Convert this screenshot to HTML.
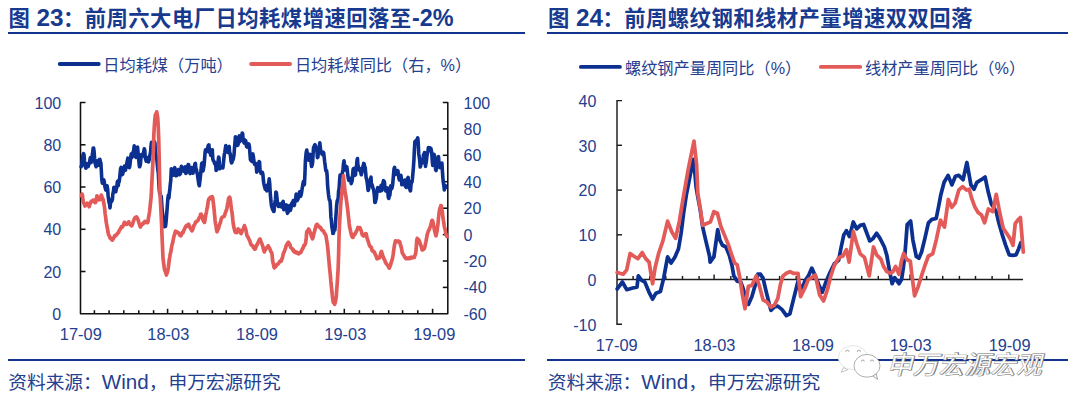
<!DOCTYPE html>
<html lang="zh"><head><meta charset="utf-8"><title>chart</title>
<style>
html,body{margin:0;padding:0;background:#fff;}
body{width:1080px;height:411px;position:relative;overflow:hidden;font-family:"Liberation Sans","Noto Sans CJK SC",sans-serif;color:#24408f;}
.rule{position:absolute;background:#12348f;}
svg{position:absolute;left:0;top:0;}
</style></head><body>
<div class="rule" style="left:8px;top:31.8px;width:516.8px;height:2px"></div>
<div class="rule" style="left:547px;top:31.8px;width:520.5px;height:2px"></div>
<div class="rule" style="left:8px;top:359px;width:516.8px;height:2px"></div>
<div class="rule" style="left:547px;top:359px;width:520.5px;height:2px"></div>
<svg width="1080" height="411" viewBox="0 0 1080 411">
<path d="M85.5,102.5 H80.5 V313.8 H447.8 V102.5 H442.8" stroke="#111" stroke-width="1.55" fill="none" stroke-linejoin="round"/>
<path d="M80.5,271.5 h5" stroke="#111" stroke-width="1.55" fill="none" stroke-linejoin="round"/>
<path d="M80.5,229.3 h5" stroke="#111" stroke-width="1.55" fill="none" stroke-linejoin="round"/>
<path d="M80.5,187.0 h5" stroke="#111" stroke-width="1.55" fill="none" stroke-linejoin="round"/>
<path d="M80.5,144.8 h5" stroke="#111" stroke-width="1.55" fill="none" stroke-linejoin="round"/>
<path d="M447.8,287.4 h-5" stroke="#111" stroke-width="1.55" fill="none" stroke-linejoin="round"/>
<path d="M447.8,261.0 h-5" stroke="#111" stroke-width="1.55" fill="none" stroke-linejoin="round"/>
<path d="M447.8,234.6 h-5" stroke="#111" stroke-width="1.55" fill="none" stroke-linejoin="round"/>
<path d="M447.8,208.2 h-5" stroke="#111" stroke-width="1.55" fill="none" stroke-linejoin="round"/>
<path d="M447.8,181.7 h-5" stroke="#111" stroke-width="1.55" fill="none" stroke-linejoin="round"/>
<path d="M447.8,155.3 h-5" stroke="#111" stroke-width="1.55" fill="none" stroke-linejoin="round"/>
<path d="M447.8,128.9 h-5" stroke="#111" stroke-width="1.55" fill="none" stroke-linejoin="round"/>
<path d="M94.4,313.8 v-3.6" stroke="#111" stroke-width="1.55" fill="none" stroke-linejoin="round"/>
<path d="M109.1,313.8 v-3.6" stroke="#111" stroke-width="1.55" fill="none" stroke-linejoin="round"/>
<path d="M123.8,313.8 v-3.6" stroke="#111" stroke-width="1.55" fill="none" stroke-linejoin="round"/>
<path d="M138.8,313.8 v-3.6" stroke="#111" stroke-width="1.55" fill="none" stroke-linejoin="round"/>
<path d="M153.6,313.8 v-3.6" stroke="#111" stroke-width="1.55" fill="none" stroke-linejoin="round"/>
<path d="M167.6,313.8 v-5" stroke="#111" stroke-width="1.55" fill="none" stroke-linejoin="round"/>
<path d="M182.5,313.8 v-3.6" stroke="#111" stroke-width="1.55" fill="none" stroke-linejoin="round"/>
<path d="M197.5,313.8 v-3.6" stroke="#111" stroke-width="1.55" fill="none" stroke-linejoin="round"/>
<path d="M212.4,313.8 v-3.6" stroke="#111" stroke-width="1.55" fill="none" stroke-linejoin="round"/>
<path d="M226.2,313.8 v-3.6" stroke="#111" stroke-width="1.55" fill="none" stroke-linejoin="round"/>
<path d="M240.7,313.8 v-3.6" stroke="#111" stroke-width="1.55" fill="none" stroke-linejoin="round"/>
<path d="M256.5,313.8 v-5" stroke="#111" stroke-width="1.55" fill="none" stroke-linejoin="round"/>
<path d="M270.6,313.8 v-3.6" stroke="#111" stroke-width="1.55" fill="none" stroke-linejoin="round"/>
<path d="M285.6,313.8 v-3.6" stroke="#111" stroke-width="1.55" fill="none" stroke-linejoin="round"/>
<path d="M300.7,313.8 v-3.6" stroke="#111" stroke-width="1.55" fill="none" stroke-linejoin="round"/>
<path d="M315.6,313.8 v-3.6" stroke="#111" stroke-width="1.55" fill="none" stroke-linejoin="round"/>
<path d="M330.4,313.8 v-3.6" stroke="#111" stroke-width="1.55" fill="none" stroke-linejoin="round"/>
<path d="M344.3,313.8 v-5" stroke="#111" stroke-width="1.55" fill="none" stroke-linejoin="round"/>
<path d="M359.4,313.8 v-3.6" stroke="#111" stroke-width="1.55" fill="none" stroke-linejoin="round"/>
<path d="M373,313.8 v-3.6" stroke="#111" stroke-width="1.55" fill="none" stroke-linejoin="round"/>
<path d="M388.7,313.8 v-3.6" stroke="#111" stroke-width="1.55" fill="none" stroke-linejoin="round"/>
<path d="M402.6,313.8 v-3.6" stroke="#111" stroke-width="1.55" fill="none" stroke-linejoin="round"/>
<path d="M417.8,313.8 v-3.6" stroke="#111" stroke-width="1.55" fill="none" stroke-linejoin="round"/>
<path d="M432.6,313.8 v-5" stroke="#111" stroke-width="1.55" fill="none" stroke-linejoin="round"/>
<text x="61.2" y="319.8" text-anchor="end" font-family="Liberation Sans, Arial, sans-serif" font-size="16" fill="#24408f">0</text>
<text x="61.2" y="277.5" text-anchor="end" font-family="Liberation Sans, Arial, sans-serif" font-size="16" fill="#24408f">20</text>
<text x="61.2" y="235.3" text-anchor="end" font-family="Liberation Sans, Arial, sans-serif" font-size="16" fill="#24408f">40</text>
<text x="61.2" y="193.0" text-anchor="end" font-family="Liberation Sans, Arial, sans-serif" font-size="16" fill="#24408f">60</text>
<text x="61.2" y="150.8" text-anchor="end" font-family="Liberation Sans, Arial, sans-serif" font-size="16" fill="#24408f">80</text>
<text x="61.2" y="108.5" text-anchor="end" font-family="Liberation Sans, Arial, sans-serif" font-size="16" fill="#24408f">100</text>
<text x="463.5" y="319.8" font-family="Liberation Sans, Arial, sans-serif" font-size="16" fill="#24408f">-60</text>
<text x="463.5" y="293.4" font-family="Liberation Sans, Arial, sans-serif" font-size="16" fill="#24408f">-40</text>
<text x="463.5" y="267.0" font-family="Liberation Sans, Arial, sans-serif" font-size="16" fill="#24408f">-20</text>
<text x="463.5" y="240.6" font-family="Liberation Sans, Arial, sans-serif" font-size="16" fill="#24408f">0</text>
<text x="463.5" y="214.2" font-family="Liberation Sans, Arial, sans-serif" font-size="16" fill="#24408f">20</text>
<text x="463.5" y="187.7" font-family="Liberation Sans, Arial, sans-serif" font-size="16" fill="#24408f">40</text>
<text x="463.5" y="161.3" font-family="Liberation Sans, Arial, sans-serif" font-size="16" fill="#24408f">60</text>
<text x="463.5" y="134.9" font-family="Liberation Sans, Arial, sans-serif" font-size="16" fill="#24408f">80</text>
<text x="463.5" y="108.5" font-family="Liberation Sans, Arial, sans-serif" font-size="16" fill="#24408f">100</text>
<text x="80.8" y="340.2" text-anchor="middle" font-family="Liberation Sans, Arial, sans-serif" font-size="16.4" fill="#24408f">17-09</text>
<text x="168.3" y="340.2" text-anchor="middle" font-family="Liberation Sans, Arial, sans-serif" font-size="16.4" fill="#24408f">18-03</text>
<text x="257" y="340.2" text-anchor="middle" font-family="Liberation Sans, Arial, sans-serif" font-size="16.4" fill="#24408f">18-09</text>
<text x="345.3" y="340.2" text-anchor="middle" font-family="Liberation Sans, Arial, sans-serif" font-size="16.4" fill="#24408f">19-03</text>
<text x="434.3" y="340.2" text-anchor="middle" font-family="Liberation Sans, Arial, sans-serif" font-size="16.4" fill="#24408f">19-09</text>
<polyline points="81.1,166.7 81.6,165.9 82.1,162.1 82.5,158.4 83.0,154.9 83.5,153.7 84.0,154.6 84.5,160.7 85.0,165.0 85.4,166.6 85.9,168.1 86.4,167.4 86.9,165.4 87.4,163.8 87.9,165.4 88.3,166.5 88.8,164.0 89.3,163.6 89.8,160.5 90.3,157.8 90.7,159.9 91.2,162.4 91.7,160.7 92.2,155.6 92.7,151.9 93.2,148.0 93.6,148.1 94.1,151.6 94.6,158.4 95.1,163.2 95.6,164.8 96.1,166.7 96.5,164.6 97.0,162.3 97.5,160.9 98.0,165.3 98.5,165.2 98.9,161.4 99.4,159.5 99.9,159.3 100.4,162.0 100.9,163.1 101.4,172.0 101.8,179.4 102.3,183.1 102.8,181.4 103.3,183.3 103.8,179.8 104.3,182.0 104.7,185.4 105.2,187.9 105.7,189.9 106.2,190.2 106.7,187.4 107.1,185.8 107.6,188.7 108.1,195.5 108.6,199.2 109.1,202.7 109.6,204.2 110.0,207.9 110.5,203.4 111.0,199.9 111.5,201.4 112.0,200.7 112.4,199.5 112.9,193.7 113.4,191.7 113.9,187.2 114.4,187.6 114.9,191.4 115.3,191.7 115.8,191.8 116.3,188.7 116.8,187.3 117.3,182.1 117.8,181.0 118.2,185.7 118.7,181.9 119.2,181.5 119.7,177.8 120.2,172.3 120.6,168.6 121.1,167.4 121.6,171.0 122.1,174.8 122.6,174.1 123.1,172.5 123.5,170.5 124.0,168.0 124.5,166.1 125.0,169.8 125.5,170.1 126.0,166.4 126.4,167.4 126.9,162.7 127.4,160.5 127.9,158.2 128.4,163.1 128.8,165.3 129.3,167.7 129.8,166.1 130.3,161.2 130.8,156.5 131.3,153.7 131.7,157.8 132.2,156.8 132.7,156.3 133.2,151.8 133.7,150.1 134.2,145.9 134.6,147.6 135.1,155.2 135.6,156.9 136.1,157.3 136.6,155.8 137.0,153.3 137.5,147.0 138.0,151.6 138.5,157.0 139.0,162.5 139.5,166.8 139.9,166.3 140.4,164.5 140.9,158.3 141.4,154.5 141.9,155.4 142.4,154.8 142.8,155.8 143.3,154.1 143.8,151.3 144.3,148.7 144.8,150.2 145.2,157.3 145.7,159.5 146.2,161.2 146.7,160.1 147.2,158.9 147.7,157.6 148.1,159.0 148.6,161.9 149.1,160.0 149.6,156.9 150.1,154.4 150.6,151.9 151.0,146.3 151.5,142.3 152.0,145.9 152.5,143.6 153.0,143.3 153.4,144.1 153.9,143.1 154.4,141.8 154.9,142.9 155.4,150.6 155.9,155.3 156.3,156.4 156.8,159.0 157.3,164.7 157.8,169.6 158.3,173.1 158.8,181.8 159.2,189.4 159.7,193.5 160.2,193.3 160.7,197.2 161.2,196.4 161.6,201.9 162.1,209.6 162.6,213.4 163.1,219.5 163.6,220.9 164.1,224.2 164.5,226.7 165.0,221.5 165.5,226.5 166.0,222.3 166.5,216.4 166.9,211.4 167.4,205.2 167.9,198.0 168.4,195.0 168.9,198.1 169.4,192.6 169.8,189.6 170.3,184.1 170.8,180.1 171.3,168.8 171.8,170.3 172.3,173.9 172.7,174.9 173.2,175.2 173.7,173.5 174.2,172.8 174.7,167.6 175.1,169.0 175.6,175.0 176.1,175.8 176.6,174.4 177.1,175.0 177.6,171.5 178.0,171.2 178.5,169.5 179.0,173.7 179.5,174.6 180.0,174.2 180.5,173.5 180.9,169.8 181.4,166.3 181.9,167.0 182.4,169.8 182.9,169.4 183.3,170.8 183.8,169.8 184.3,171.4 184.8,167.9 185.3,166.8 185.8,173.4 186.2,172.8 186.7,172.5 187.2,169.0 187.7,166.1 188.2,164.5 188.7,164.8 189.1,170.9 189.6,171.3 190.1,173.6 190.6,171.3 191.1,169.7 191.5,167.6 192.0,167.6 192.5,170.0 193.0,173.3 193.5,169.7 194.0,169.5 194.4,167.7 194.9,163.7 195.4,163.4 195.9,169.3 196.4,169.4 196.9,172.6 197.3,173.4 197.8,177.3 198.3,180.7 198.8,184.2 199.3,185.7 199.7,182.6 200.2,178.2 200.7,173.8 201.2,167.9 201.7,163.4 202.2,162.9 202.6,170.4 203.1,170.8 203.6,167.7 204.1,165.2 204.6,158.7 205.1,152.4 205.5,149.9 206.0,151.7 206.5,151.7 207.0,150.0 207.5,148.6 207.9,146.9 208.4,145.3 208.9,144.8 209.4,150.6 209.9,152.9 210.4,153.5 210.8,155.4 211.3,154.9 211.8,152.2 212.3,149.7 212.8,158.9 213.3,160.6 213.7,160.8 214.2,162.1 214.7,163.7 215.2,162.8 215.7,164.6 216.1,170.5 216.6,170.0 217.1,168.7 217.6,165.0 218.1,161.2 218.6,157.1 219.0,157.8 219.5,164.5 220.0,168.7 220.5,165.9 221.0,168.1 221.4,167.7 221.9,166.7 222.4,167.1 222.9,167.9 223.4,163.4 223.9,158.5 224.3,154.4 224.8,152.3 225.3,148.9 225.8,145.6 226.3,149.8 226.8,151.7 227.2,151.8 227.7,152.3 228.2,150.7 228.7,147.0 229.2,146.5 229.6,152.9 230.1,153.2 230.6,157.1 231.1,161.6 231.6,162.9 232.1,162.0 232.5,158.7 233.0,159.9 233.5,157.8 234.0,155.0 234.5,147.6 235.0,142.8 235.4,136.7 235.9,137.6 236.4,143.2 236.9,145.5 237.4,145.3 237.8,145.3 238.3,143.5 238.8,138.4 239.3,135.9 239.8,141.8 240.3,138.5 240.7,139.5 241.2,138.5 241.7,136.9 242.2,133.0 242.7,133.8 243.2,140.5 243.6,141.5 244.1,142.9 244.6,139.9 245.1,143.2 245.6,140.5 246.0,142.2 246.5,146.5 247.0,147.0 247.5,145.0 248.0,144.4 248.5,143.9 248.9,144.1 249.4,146.5 249.9,153.0 250.4,159.5 250.9,160.5 251.4,159.3 251.8,161.4 252.3,154.3 252.8,153.8 253.3,156.3 253.8,159.9 254.2,163.0 254.7,164.3 255.2,163.8 255.7,163.4 256.2,165.0 256.7,172.1 257.1,170.5 257.6,168.5 258.1,167.5 258.6,166.5 259.1,161.5 259.6,162.4 260.0,170.1 260.5,172.0 261.0,173.3 261.5,172.9 262.0,173.0 262.4,172.3 262.9,174.4 263.4,180.6 263.9,183.8 264.4,186.0 264.9,187.8 265.3,189.2 265.8,186.9 266.3,185.6 266.8,190.9 267.3,189.6 267.8,188.0 268.2,184.6 268.7,183.1 269.2,178.9 269.7,183.4 270.2,192.8 270.6,197.2 271.1,202.5 271.6,206.6 272.1,207.5 272.6,209.6 273.1,207.0 273.5,211.4 274.0,211.4 274.5,205.4 275.0,202.1 275.5,199.2 275.9,192.1 276.4,192.7 276.9,197.5 277.4,202.4 277.9,205.1 278.4,206.5 278.8,206.2 279.3,204.2 279.8,204.1 280.3,206.4 280.8,206.6 281.3,206.8 281.7,204.9 282.2,202.9 282.7,203.4 283.2,201.4 283.7,209.7 284.1,209.0 284.6,208.7 285.1,207.4 285.6,205.1 286.1,204.8 286.6,205.3 287.0,211.3 287.5,213.3 288.0,212.3 288.5,210.7 289.0,209.8 289.5,205.7 289.9,205.3 290.4,210.4 290.9,208.3 291.4,206.5 291.9,203.0 292.3,202.6 292.8,202.1 293.3,200.5 293.8,204.5 294.3,205.5 294.8,201.9 295.2,201.1 295.7,198.4 296.2,194.0 296.7,196.4 297.2,200.6 297.7,199.5 298.1,198.8 298.6,195.6 299.1,195.0 299.6,191.8 300.1,192.2 300.5,196.4 301.0,195.5 301.5,192.9 302.0,189.4 302.5,186.6 303.0,183.4 303.4,181.7 303.9,183.9 304.4,184.5 304.9,174.9 305.4,160.9 305.9,155.3 306.3,151.8 306.8,150.1 307.3,154.5 307.8,158.6 308.3,159.1 308.7,160.2 309.2,160.0 309.7,154.3 310.2,154.6 310.7,157.4 311.2,164.0 311.6,166.5 312.1,165.2 312.6,162.6 313.1,154.2 313.6,147.2 314.1,148.2 314.5,145.2 315.0,144.7 315.5,145.8 316.0,147.4 316.5,147.9 316.9,150.4 317.4,157.6 317.9,157.2 318.4,151.2 318.9,149.9 319.4,147.9 319.8,142.7 320.3,146.9 320.8,152.3 321.3,152.5 321.8,153.8 322.3,153.6 322.7,154.6 323.2,152.2 323.7,153.0 324.2,157.2 324.7,162.0 325.1,164.8 325.6,169.2 326.1,171.2 326.6,170.6 327.1,175.0 327.6,185.3 328.0,189.7 328.5,194.5 329.0,198.1 329.5,200.3 330.0,200.4 330.4,205.8 330.9,216.9 331.4,220.8 331.9,227.1 332.4,229.5 332.9,233.5 333.3,233.3 333.8,231.1 334.3,229.8 334.8,230.2 335.3,225.5 335.8,218.0 336.2,211.8 336.7,205.0 337.2,200.8 337.7,200.1 338.2,197.8 338.6,190.8 339.1,188.5 339.6,180.7 340.1,175.0 340.6,176.1 341.1,177.1 341.5,175.9 342.0,175.7 342.5,172.2 343.0,169.2 343.5,163.9 344.0,160.7 344.4,163.3 344.9,166.0 345.4,170.0 345.9,168.6 346.4,170.5 346.8,166.8 347.3,170.6 347.8,175.1 348.3,178.3 348.8,180.3 349.3,179.6 349.7,178.3 350.2,178.4 350.7,179.1 351.2,183.6 351.7,181.9 352.2,180.6 352.6,175.1 353.1,169.4 353.6,168.5 354.1,168.4 354.6,174.7 355.0,175.3 355.5,174.8 356.0,168.4 356.5,166.4 357.0,160.3 357.5,158.5 357.9,165.1 358.4,166.7 358.9,169.0 359.4,170.3 359.9,170.8 360.4,168.8 360.8,172.3 361.3,174.8 361.8,172.4 362.3,171.2 362.8,167.1 363.2,165.8 363.7,163.4 364.2,164.0 364.7,166.8 365.2,167.7 365.7,172.9 366.1,177.5 366.6,179.1 367.1,181.7 367.6,185.7 368.1,190.4 368.6,189.3 369.0,186.5 369.5,185.6 370.0,185.3 370.5,178.7 371.0,177.2 371.4,185.4 371.9,184.3 372.4,186.0 372.9,188.1 373.4,189.0 373.9,191.8 374.3,194.9 374.8,202.4 375.3,202.4 375.8,200.0 376.3,198.5 376.7,193.9 377.2,190.9 377.7,187.6 378.2,191.2 378.7,190.8 379.2,190.0 379.6,190.3 380.1,191.0 380.6,189.3 381.1,185.4 381.6,190.6 382.1,188.4 382.5,187.4 383.0,182.6 383.5,180.7 384.0,181.0 384.5,182.6 384.9,187.7 385.4,190.2 385.9,191.0 386.4,191.2 386.9,188.9 387.4,188.0 387.8,191.1 388.3,197.5 388.8,198.4 389.3,195.1 389.8,195.5 390.3,191.0 390.7,185.9 391.2,186.8 391.7,188.8 392.2,187.2 392.7,184.2 393.1,179.6 393.6,173.4 394.1,168.4 394.6,167.3 395.1,173.0 395.6,174.3 396.0,172.9 396.5,172.8 397.0,172.3 397.5,170.6 398.0,171.1 398.5,175.8 398.9,178.1 399.4,180.0 399.9,179.4 400.4,179.5 400.9,175.2 401.3,177.8 401.8,184.8 402.3,183.5 402.8,184.0 403.3,182.5 403.8,184.2 404.2,180.4 404.7,180.2 405.2,185.9 405.7,186.7 406.2,187.3 406.7,186.2 407.1,183.1 407.6,178.2 408.1,177.5 408.6,184.0 409.1,187.7 409.5,186.6 410.0,190.2 410.5,190.9 411.0,184.8 411.5,181.2 412.0,182.1 412.4,178.9 412.9,173.4 413.4,167.7 413.9,160.5 414.4,149.3 414.9,141.8 415.3,141.2 415.8,143.3 416.3,142.4 416.8,140.3 417.3,138.8 417.7,137.8 418.2,141.9 418.7,153.4 419.2,156.8 419.7,160.5 420.2,167.0 420.6,166.0 421.1,161.4 421.6,160.2 422.1,163.1 422.6,160.6 423.1,158.7 423.5,154.6 424.0,154.7 424.5,152.6 425.0,158.8 425.5,166.4 425.9,163.6 426.4,161.4 426.9,156.1 427.4,153.5 427.9,151.1 428.4,147.5 428.8,150.3 429.3,150.6 429.8,147.8 430.3,149.1 430.8,148.3 431.2,149.7 431.7,152.5 432.2,160.2 432.7,165.4 433.2,162.0 433.7,158.0 434.1,154.4 434.6,156.2 435.1,159.0 435.6,169.8 436.1,170.5 436.6,167.8 437.0,164.6 437.5,161.7 438.0,157.9 438.5,156.6 439.0,163.0 439.4,165.7 439.9,167.6 440.4,167.0 440.9,167.1 441.4,163.9 441.9,163.1 442.3,169.7 442.8,176.9 443.3,182.5 443.8,185.2 444.3,189.9 444.8,186.4 445.2,185.5 445.7,187.5" fill="none" stroke="#0c3090" stroke-width="3.6" stroke-linejoin="round" stroke-linecap="round"/>
<polyline points="81.5,195.9 82.0,194.1 82.5,195.2 82.9,199.6 83.4,202.7 83.9,202.9 84.4,204.4 84.9,206.1 85.4,205.7 85.8,205.3 86.3,204.7 86.8,204.1 87.3,203.1 87.8,203.8 88.3,204.8 88.7,204.8 89.2,206.8 89.7,205.0 90.2,203.6 90.7,202.4 91.1,201.5 91.6,201.7 92.1,201.2 92.6,201.1 93.1,200.1 93.6,200.6 94.0,200.2 94.5,201.2 95.0,202.6 95.5,202.5 96.0,200.6 96.5,198.9 96.9,195.8 97.4,196.8 97.9,197.4 98.4,198.6 98.9,199.9 99.3,199.8 99.8,199.7 100.3,197.7 100.8,196.8 101.3,195.1 101.8,196.3 102.2,198.3 102.7,198.5 103.2,199.9 103.7,203.0 104.2,205.4 104.7,208.8 105.1,213.5 105.6,216.8 106.1,221.4 106.6,224.3 107.1,227.2 107.5,228.9 108.0,232.2 108.5,234.4 109.0,235.4 109.5,236.3 110.0,237.9 110.4,238.4 110.9,238.1 111.4,238.8 111.9,240.0 112.4,240.1 112.8,239.4 113.3,238.8 113.8,237.5 114.3,236.7 114.8,235.6 115.3,236.2 115.7,235.4 116.2,234.7 116.7,234.6 117.2,233.9 117.7,233.2 118.2,232.5 118.6,232.4 119.1,230.7 119.6,230.3 120.1,229.2 120.6,228.3 121.0,227.7 121.5,226.6 122.0,227.4 122.5,226.7 123.0,226.2 123.5,224.9 123.9,223.7 124.4,222.3 124.9,222.5 125.4,224.0 125.9,224.1 126.4,224.3 126.8,224.4 127.3,224.0 127.8,223.2 128.3,223.0 128.8,221.8 129.2,222.9 129.7,223.7 130.2,224.1 130.7,224.9 131.2,225.5 131.7,225.9 132.1,225.0 132.6,223.9 133.1,222.2 133.6,220.9 134.1,219.2 134.6,218.4 135.0,217.7 135.5,218.2 136.0,218.0 136.5,217.0 137.0,217.4 137.4,218.6 137.9,219.3 138.4,220.8 138.9,222.8 139.4,224.1 139.9,225.7 140.3,227.0 140.8,226.2 141.3,225.4 141.8,224.5 142.3,224.5 142.8,223.4 143.2,223.9 143.7,222.7 144.2,222.8 144.7,221.5 145.2,221.4 145.6,222.1 146.1,222.2 146.6,222.2 147.1,222.7 147.6,222.6 148.1,221.2 148.5,217.8 149.0,215.0 149.5,212.0 150.0,207.7 150.5,202.8 151.0,198.0 151.4,192.1 151.9,181.6 152.4,171.9 152.9,162.2 153.4,149.5 153.8,135.5 154.3,126.7 154.8,120.2 155.3,114.8 155.8,114.5 156.3,113.3 156.7,111.9 157.2,114.7 157.7,117.5 158.2,125.9 158.7,138.4 159.2,158.7 159.6,178.4 160.1,196.1 160.6,204.4 161.1,214.1 161.6,224.8 162.0,235.4 162.5,246.7 163.0,258.0 163.5,262.0 164.0,265.9 164.5,269.4 164.9,270.5 165.4,271.7 165.9,273.3 166.4,275.0 166.9,273.6 167.3,272.0 167.8,270.7 168.3,267.7 168.8,263.5 169.3,259.5 169.8,256.9 170.2,254.3 170.7,252.3 171.2,249.7 171.7,246.5 172.2,244.0 172.7,242.8 173.1,240.3 173.6,238.0 174.1,235.6 174.6,234.5 175.1,232.5 175.5,231.2 176.0,231.9 176.5,231.9 177.0,231.8 177.5,232.6 178.0,232.6 178.4,232.7 178.9,233.6 179.4,234.4 179.9,235.5 180.4,235.5 180.9,235.8 181.3,234.8 181.8,233.7 182.3,232.4 182.8,232.9 183.3,231.9 183.7,230.5 184.2,229.9 184.7,228.6 185.2,227.5 185.7,226.4 186.2,226.3 186.6,225.4 187.1,226.0 187.6,225.5 188.1,224.8 188.6,224.3 189.1,225.4 189.5,226.3 190.0,227.8 190.5,228.5 191.0,229.0 191.5,230.2 191.9,230.9 192.4,230.1 192.9,229.0 193.4,226.9 193.9,225.5 194.4,225.1 194.8,224.1 195.3,222.7 195.8,221.8 196.3,222.0 196.8,221.3 197.3,220.9 197.7,220.7 198.2,219.9 198.7,218.8 199.2,217.7 199.7,217.1 200.1,216.4 200.6,214.3 201.1,214.1 201.6,214.9 202.1,216.5 202.6,218.5 203.0,219.9 203.5,221.2 204.0,221.6 204.5,222.4 205.0,219.9 205.5,216.5 205.9,214.2 206.4,212.1 206.9,209.0 207.4,207.4 207.9,203.7 208.3,200.7 208.8,199.2 209.3,198.5 209.8,199.0 210.3,197.3 210.8,197.5 211.2,197.1 211.7,196.8 212.2,196.6 212.7,198.1 213.2,202.0 213.7,205.6 214.1,209.6 214.6,215.1 215.1,220.4 215.6,224.1 216.1,226.0 216.5,229.5 217.0,231.8 217.5,230.5 218.0,229.3 218.5,228.6 219.0,226.6 219.4,225.0 219.9,223.6 220.4,222.8 220.9,220.4 221.4,218.4 221.8,217.8 222.3,217.2 222.8,217.0 223.3,216.7 223.8,216.6 224.3,216.2 224.7,215.1 225.2,213.1 225.7,212.0 226.2,210.7 226.7,209.0 227.2,207.0 227.6,203.9 228.1,201.6 228.6,198.4 229.1,197.8 229.6,197.1 230.0,198.2 230.5,201.4 231.0,205.6 231.5,209.5 232.0,212.3 232.5,216.5 232.9,220.7 233.4,224.7 233.9,227.5 234.4,229.4 234.9,231.4 235.4,232.3 235.8,232.2 236.3,231.5 236.8,232.5 237.3,231.1 237.8,230.1 238.2,229.0 238.7,230.4 239.2,229.9 239.7,231.5 240.2,232.6 240.7,233.1 241.1,233.6 241.6,232.7 242.1,230.9 242.6,230.0 243.1,229.1 243.6,228.3 244.0,227.3 244.5,225.6 245.0,227.5 245.5,228.7 246.0,230.4 246.4,232.5 246.9,235.4 247.4,236.2 247.9,237.3 248.4,237.7 248.9,239.3 249.3,239.8 249.8,240.8 250.3,242.6 250.8,244.3 251.3,244.7 251.8,245.4 252.2,245.5 252.7,245.8 253.2,246.8 253.7,247.8 254.2,248.4 254.6,249.1 255.1,249.2 255.6,248.0 256.1,246.5 256.6,245.1 257.1,245.0 257.5,243.6 258.0,242.7 258.5,241.8 259.0,240.4 259.5,239.5 260.0,239.0 260.4,240.0 260.9,241.8 261.4,242.7 261.9,243.8 262.4,245.4 262.8,246.2 263.3,248.6 263.8,250.5 264.3,251.9 264.8,250.4 265.3,250.0 265.7,249.3 266.2,248.2 266.7,247.7 267.2,247.3 267.7,246.6 268.2,245.8 268.6,246.7 269.1,247.5 269.6,248.5 270.1,249.4 270.6,250.9 271.0,251.9 271.5,252.5 272.0,253.8 272.5,259.6 273.0,262.8 273.5,264.5 273.9,266.8 274.4,267.8 274.9,267.3 275.4,266.4 275.9,266.5 276.3,265.2 276.8,264.5 277.3,264.1 277.8,264.2 278.3,263.6 278.8,263.2 279.2,262.4 279.7,261.8 280.2,261.0 280.7,261.2 281.2,261.2 281.7,259.5 282.1,258.6 282.6,257.0 283.1,254.7 283.6,252.6 284.1,252.2 284.5,250.9 285.0,249.6 285.5,248.4 286.0,246.3 286.5,245.1 287.0,244.1 287.4,243.5 287.9,243.1 288.4,242.3 288.9,243.1 289.4,244.6 289.9,244.5 290.3,246.3 290.8,247.6 291.3,247.9 291.8,248.4 292.3,248.6 292.7,249.8 293.2,249.6 293.7,251.4 294.2,251.3 294.7,252.2 295.2,251.5 295.6,252.3 296.1,252.9 296.6,252.3 297.1,252.4 297.6,253.2 298.1,253.6 298.5,253.8 299.0,253.5 299.5,252.9 300.0,252.8 300.5,252.2 300.9,252.4 301.4,251.0 301.9,250.1 302.4,248.9 302.9,248.2 303.4,247.4 303.8,245.7 304.3,245.8 304.8,244.7 305.3,243.9 305.8,241.7 306.3,237.2 306.7,232.1 307.2,231.2 307.7,231.2 308.2,229.9 308.7,229.0 309.1,230.1 309.6,231.1 310.1,232.2 310.6,233.6 311.1,235.2 311.6,236.8 312.0,237.5 312.5,238.8 313.0,237.5 313.5,235.4 314.0,233.0 314.5,231.6 314.9,229.7 315.4,228.4 315.9,226.2 316.4,224.9 316.9,224.3 317.3,224.4 317.8,225.7 318.3,226.1 318.8,226.1 319.3,226.9 319.8,227.0 320.2,227.9 320.7,227.7 321.2,228.8 321.7,229.9 322.2,230.1 322.7,230.2 323.1,231.2 323.6,231.2 324.1,232.7 324.6,233.2 325.1,234.3 325.5,234.6 326.0,236.0 326.5,239.3 327.0,242.2 327.5,245.8 328.0,250.6 328.4,255.0 328.9,260.3 329.4,266.3 329.9,271.1 330.4,275.7 330.8,280.9 331.3,285.9 331.8,290.2 332.3,295.4 332.8,299.6 333.3,302.4 333.7,302.5 334.2,303.3 334.7,304.3 335.2,302.5 335.7,300.1 336.2,297.4 336.6,291.2 337.1,285.2 337.6,277.2 338.1,269.3 338.6,255.1 339.0,237.3 339.5,224.5 340.0,216.0 340.5,208.0 341.0,200.6 341.5,196.4 341.9,191.8 342.4,187.3 342.9,181.6 343.4,175.7 343.9,180.8 344.4,185.8 344.8,190.1 345.3,193.2 345.8,195.8 346.3,199.1 346.8,202.7 347.2,206.0 347.7,209.8 348.2,214.6 348.7,218.7 349.2,223.7 349.7,227.4 350.1,228.8 350.6,231.3 351.1,233.5 351.6,235.7 352.1,236.3 352.6,237.5 353.0,237.5 353.5,236.1 354.0,234.9 354.5,234.1 355.0,234.3 355.4,233.1 355.9,232.5 356.4,230.9 356.9,230.5 357.4,229.0 357.9,227.5 358.3,227.9 358.8,228.4 359.3,228.6 359.8,227.7 360.3,228.6 360.8,229.8 361.2,230.7 361.7,232.4 362.2,234.8 362.7,235.3 363.2,235.6 363.6,236.0 364.1,235.5 364.6,235.0 365.1,234.5 365.6,233.6 366.1,233.8 366.5,235.4 367.0,238.0 367.5,239.2 368.0,240.9 368.5,242.1 369.0,244.0 369.4,245.3 369.9,246.1 370.4,246.8 370.9,246.8 371.4,247.5 371.8,249.5 372.3,250.8 372.8,251.4 373.3,251.2 373.8,251.5 374.3,252.0 374.7,252.8 375.2,254.4 375.7,255.1 376.2,256.3 376.7,258.2 377.1,258.8 377.6,258.1 378.1,258.2 378.6,258.3 379.1,257.8 379.6,257.7 380.0,256.1 380.5,254.3 381.0,252.1 381.5,251.4 382.0,253.1 382.5,254.6 382.9,256.5 383.4,257.2 383.9,259.0 384.4,259.6 384.9,260.4 385.3,262.1 385.8,262.6 386.3,264.0 386.8,264.3 387.3,264.9 387.8,265.5 388.2,265.8 388.7,267.3 389.2,268.1 389.7,267.2 390.2,265.7 390.7,264.7 391.1,262.7 391.6,261.4 392.1,259.9 392.6,257.7 393.1,255.0 393.5,251.7 394.0,248.3 394.5,245.0 395.0,242.7 395.5,240.8 396.0,241.2 396.4,241.6 396.9,241.5 397.4,241.2 397.9,241.8 398.4,241.0 398.9,241.4 399.3,241.5 399.8,241.9 400.3,244.2 400.8,245.9 401.3,247.4 401.7,249.5 402.2,252.6 402.7,253.6 403.2,254.4 403.7,255.1 404.2,256.0 404.6,256.9 405.1,257.6 405.6,258.1 406.1,258.6 406.6,258.2 407.1,258.6 407.5,258.7 408.0,258.1 408.5,258.4 409.0,257.9 409.5,258.5 409.9,258.3 410.4,258.4 410.9,257.2 411.4,257.1 411.9,257.5 412.4,257.9 412.8,257.4 413.3,257.5 413.8,257.2 414.3,257.3 414.8,255.8 415.3,254.5 415.7,253.4 416.2,249.0 416.7,240.5 417.2,238.4 417.7,239.2 418.1,239.4 418.6,239.6 419.1,240.4 419.6,241.8 420.1,243.4 420.6,245.0 421.0,245.7 421.5,247.4 422.0,249.8 422.5,250.0 423.0,249.5 423.5,249.3 423.9,249.0 424.4,248.4 424.9,246.5 425.4,244.1 425.9,241.8 426.3,239.6 426.8,237.0 427.3,234.1 427.8,232.9 428.3,231.0 428.8,230.2 429.2,229.6 429.7,228.2 430.2,226.9 430.7,225.4 431.2,223.8 431.6,221.4 432.1,220.3 432.6,220.8 433.1,222.9 433.6,226.0 434.1,228.0 434.5,230.4 435.0,232.3 435.5,234.4 436.0,235.8 436.5,233.3 437.0,231.5 437.4,228.0 437.9,224.6 438.4,219.1 438.9,214.6 439.4,210.8 439.8,208.7 440.3,207.5 440.8,205.6 441.3,205.8 441.8,209.5 442.3,211.6 442.7,215.1 443.2,219.3 443.7,222.2 444.2,225.8 444.7,228.4 445.2,229.7 445.6,232.5 446.1,235.0 446.6,235.6 447.1,236.7" fill="none" stroke="#e35b58" stroke-width="3.7" stroke-linejoin="round" stroke-linecap="round"/>
<path d="M622,100.6 H617 V324.3 h5" stroke="#1c1c1c" stroke-width="1.45" fill="none"/>
<path d="M617,279.5 H1023" stroke="#1c1c1c" stroke-width="1.45" fill="none"/>
<path d="M617,234.8 h5" stroke="#1c1c1c" stroke-width="1.45" fill="none"/>
<path d="M617,190.1 h5" stroke="#1c1c1c" stroke-width="1.45" fill="none"/>
<path d="M617,145.3 h5" stroke="#1c1c1c" stroke-width="1.45" fill="none"/>
<path d="M633.1,279.5 v-3.6" stroke="#1c1c1c" stroke-width="1.45" fill="none"/>
<path d="M649.7,279.5 v-3.6" stroke="#1c1c1c" stroke-width="1.45" fill="none"/>
<path d="M665.8,279.5 v-3.6" stroke="#1c1c1c" stroke-width="1.45" fill="none"/>
<path d="M682.5,279.5 v-3.6" stroke="#1c1c1c" stroke-width="1.45" fill="none"/>
<path d="M699.1,279.5 v-3.6" stroke="#1c1c1c" stroke-width="1.45" fill="none"/>
<path d="M714.1,279.5 v-5" stroke="#1c1c1c" stroke-width="1.45" fill="none"/>
<path d="M730.8,279.5 v-3.6" stroke="#1c1c1c" stroke-width="1.45" fill="none"/>
<path d="M746.9,279.5 v-3.6" stroke="#1c1c1c" stroke-width="1.45" fill="none"/>
<path d="M763.5,279.5 v-3.6" stroke="#1c1c1c" stroke-width="1.45" fill="none"/>
<path d="M779.6,279.5 v-3.6" stroke="#1c1c1c" stroke-width="1.45" fill="none"/>
<path d="M796.2,279.5 v-3.6" stroke="#1c1c1c" stroke-width="1.45" fill="none"/>
<path d="M812.9,279.5 v-5" stroke="#1c1c1c" stroke-width="1.45" fill="none"/>
<path d="M829.0,279.5 v-3.6" stroke="#1c1c1c" stroke-width="1.45" fill="none"/>
<path d="M845.6,279.5 v-3.6" stroke="#1c1c1c" stroke-width="1.45" fill="none"/>
<path d="M861.7,279.5 v-3.6" stroke="#1c1c1c" stroke-width="1.45" fill="none"/>
<path d="M878.3,279.5 v-3.6" stroke="#1c1c1c" stroke-width="1.45" fill="none"/>
<path d="M895.0,279.5 v-3.6" stroke="#1c1c1c" stroke-width="1.45" fill="none"/>
<path d="M910.0,279.5 v-5" stroke="#1c1c1c" stroke-width="1.45" fill="none"/>
<path d="M926.6,279.5 v-3.6" stroke="#1c1c1c" stroke-width="1.45" fill="none"/>
<path d="M942.7,279.5 v-3.6" stroke="#1c1c1c" stroke-width="1.45" fill="none"/>
<path d="M959.4,279.5 v-3.6" stroke="#1c1c1c" stroke-width="1.45" fill="none"/>
<path d="M975.5,279.5 v-3.6" stroke="#1c1c1c" stroke-width="1.45" fill="none"/>
<path d="M992.1,279.5 v-3.6" stroke="#1c1c1c" stroke-width="1.45" fill="none"/>
<path d="M1008.8,279.5 v-5" stroke="#1c1c1c" stroke-width="1.45" fill="none"/>
<text x="596.4" y="330.6" text-anchor="end" font-family="Liberation Sans, Arial, sans-serif" font-size="16" fill="#24408f">-10</text>
<text x="596.4" y="285.9" text-anchor="end" font-family="Liberation Sans, Arial, sans-serif" font-size="16" fill="#24408f">0</text>
<text x="596.4" y="241.1" text-anchor="end" font-family="Liberation Sans, Arial, sans-serif" font-size="16" fill="#24408f">10</text>
<text x="596.4" y="196.4" text-anchor="end" font-family="Liberation Sans, Arial, sans-serif" font-size="16" fill="#24408f">20</text>
<text x="596.4" y="151.6" text-anchor="end" font-family="Liberation Sans, Arial, sans-serif" font-size="16" fill="#24408f">30</text>
<text x="596.4" y="106.9" text-anchor="end" font-family="Liberation Sans, Arial, sans-serif" font-size="16" fill="#24408f">40</text>
<text x="616.7" y="350.8" text-anchor="middle" font-family="Liberation Sans, Arial, sans-serif" font-size="16.4" fill="#24408f">17-09</text>
<text x="714.4" y="350.8" text-anchor="middle" font-family="Liberation Sans, Arial, sans-serif" font-size="16.4" fill="#24408f">18-03</text>
<text x="813" y="350.8" text-anchor="middle" font-family="Liberation Sans, Arial, sans-serif" font-size="16.4" fill="#24408f">18-09</text>
<text x="910.6" y="350.8" text-anchor="middle" font-family="Liberation Sans, Arial, sans-serif" font-size="16.4" fill="#24408f">19-03</text>
<text x="1009.6" y="350.8" text-anchor="middle" font-family="Liberation Sans, Arial, sans-serif" font-size="16.4" fill="#24408f">19-09</text>
<polyline points="617.2,288.9 622.4,282.0 626.7,289.7 632.7,288.0 637.0,287.1 638.3,275.9 641.4,280.2 644.8,282.0 649.1,292.3 652.6,299.2 656.0,293.2 660.4,291.5 663.8,277.6 667.6,256.9 671.1,263.0 675.0,256.9 678.5,248.7 681.1,233.2 683.7,212.5 686.3,195.2 688.9,181.8 693.2,159.4 694.9,173.2 696.1,187.0 697.5,195.2 700.1,209.0 702.7,227.1 706.1,241.8 709.6,256.5 710.1,262.1 713.9,256.9 717.7,229.7 719.9,240.1 722.5,245.3 726.0,247.0 729.4,255.6 732.0,265.5 733.8,275.9 737.2,281.1 740.7,282.0 743.3,288.9 745.9,300.1 748.4,304.4 751.9,296.6 755.4,284.5 757.9,274.2 760.5,274.2 763.1,278.5 765.7,289.7 768.3,300.1 770.9,310.4 774.3,307.0 777.8,306.1 782.1,309.6 786.4,315.6 789.9,313.9 793.3,300.1 795.9,289.7 798.0,281.1 801.5,289.7 804.9,281.1 808.4,275.9 811.8,268.1 815.3,275.9 818.7,284.5 822.2,292.3 825.6,282.8 830.0,272.5 834.3,263.8 838.6,260.4 841.2,247.0 843.8,234.9 846.4,230.6 849.5,236.6 853.3,222.0 856.7,228.9 860.2,225.4 863.6,224.5 866.2,231.5 869.7,240.9 873.1,238.4 876.6,233.2 880.0,238.4 884.4,247.0 886.9,255.6 889.5,270.7 892.1,283.7 894.7,277.6 899.0,283.7 901.6,279.4 903.4,267.3 905.1,252.2 907.2,224.5 910.6,221.1 912.9,240.1 916.3,256.5 918.9,258.2 921.5,252.2 924.9,238.4 928.4,222.8 931.9,219.4 936.2,218.5 938.8,205.5 940.7,195.3 944.1,182.3 948.1,175.4 951.9,184.9 955.4,176.3 958.8,175.4 963.1,179.7 966.9,162.5 970.9,184.9 974.0,189.2 976.9,182.3 981.3,179.7 985.1,177.1 988.2,191.8 991.3,203.9 993.6,207.3 996.2,211.6 998.8,222.8 1002.3,234.9 1005.7,245.3 1009.2,254.8 1012.6,255.3 1016.1,254.8 1018.7,248.7 1020.9,242.7" fill="none" stroke="#0c3090" stroke-width="3.75" stroke-linejoin="round" stroke-linecap="round"/>
<polyline points="617.2,272.5 619.8,273.3 623.2,274.2 626.7,269.9 630.1,253.5 633.6,256.0 637.9,258.6 642.2,252.6 645.7,258.6 649.1,262.1 652.6,283.7 655.2,267.3 658.6,253.5 662.9,240.9 667.6,221.1 671.6,231.5 675.6,238.4 679.4,221.1 682.8,200.4 688.0,170.6 690.6,157.6 694.0,141.2 696.6,164.5 697.8,193.5 700.1,207.3 702.7,225.4 706.1,223.7 710.4,222.0 713.9,211.6 717.4,213.3 720.8,226.3 725.1,236.6 728.6,245.3 731.2,253.5 734.6,263.0 737.2,264.7 739.8,277.6 742.4,294.9 745.0,308.7 748.4,286.3 751.9,285.4 756.2,275.9 759.7,287.1 763.1,300.1 766.6,301.8 770.9,307.0 774.3,305.3 777.8,298.4 780.4,284.5 783.0,275.9 786.4,273.3 789.9,271.6 793.3,273.3 798.0,273.3 800.6,296.6 804.9,288.0 808.4,279.4 811.8,277.6 815.3,275.0 819.6,294.9 823.6,300.9 827.4,289.7 830.8,275.9 834.3,265.5 838.6,257.8 842.9,256.0 846.4,249.6 849.1,262.1 853.3,231.5 856.7,243.5 860.2,253.9 864.5,257.4 869.2,275.9 873.5,247.0 876.6,254.8 880.9,259.1 883.5,266.4 886.9,271.6 890.4,273.3 893.0,271.6 895.6,266.4 899.0,274.2 901.6,260.4 903.7,253.5 906.8,259.5 910.3,261.2 912.0,275.9 914.6,295.8 918.0,287.1 921.5,275.9 924.9,265.5 928.4,256.0 932.7,253.9 936.2,240.1 940.5,220.2 944.5,227.1 948.3,199.5 951.7,207.3 955.2,203.0 958.8,190.1 962.6,186.6 966.6,190.1 969.2,189.2 971.8,198.7 975.0,207.3 978.1,212.5 981.5,215.0 984.6,222.8 988.4,209.0 992.8,211.6 996.2,194.3 999.7,212.5 1003.1,228.0 1006.6,233.2 1010.0,238.4 1013.0,245.3 1015.2,223.7 1017.8,220.2 1020.4,217.6 1023.3,252.2" fill="none" stroke="#e35b58" stroke-width="3.75" stroke-linejoin="round" stroke-linecap="round"/>
<path d="M59.8,64 H98.7" stroke="#0c3090" stroke-width="4" stroke-linecap="round"/>
<path d="M251.2,64 H290" stroke="#e35b58" stroke-width="4" stroke-linecap="round"/>
<path d="M580.9,66.9 H619.9" stroke="#0c3090" stroke-width="3.9" stroke-linecap="round"/>
<path d="M820.9,66.9 H860.2" stroke="#e35b58" stroke-width="3.9" stroke-linecap="round"/>
<text y="26.3" font-family="Liberation Sans, Noto Sans CJK SC, sans-serif" font-weight="bold" fill="#173a8f" font-size="21.3"><tspan x="8.4">图</tspan><tspan x="36.5" font-size="24.3">23</tspan><tspan x="62.9" letter-spacing="0.5">：前周六大电厂日均耗煤增速回落至</tspan><tspan dx="0.4" font-size="23.4">-2%</tspan></text>
<text y="26.3" font-family="Liberation Sans, Noto Sans CJK SC, sans-serif" font-weight="bold" fill="#173a8f" font-size="21.3"><tspan x="547.9">图</tspan><tspan x="576.0" font-size="24.3">24</tspan><tspan x="602.4" letter-spacing="0.5">：前周螺纹钢和线材产量增速双双回落</tspan></text>
<text x="103.3" y="71.4" font-family="Liberation Sans, Noto Sans CJK SC, sans-serif" font-size="16.2" fill="#24408f">日均耗煤（万吨）</text>
<text x="294.9" y="71.4" font-family="Liberation Sans, Noto Sans CJK SC, sans-serif" font-size="16.2" fill="#24408f">日均耗煤同比（右，%）</text>
<text x="625" y="74.3" font-family="Liberation Sans, Noto Sans CJK SC, sans-serif" font-size="16.2" fill="#24408f">螺纹钢产量周同比（%）</text>
<text x="865" y="74.3" font-family="Liberation Sans, Noto Sans CJK SC, sans-serif" font-size="16.2" fill="#24408f">线材产量周同比（%）</text>
<text x="8.3" y="389.1" font-family="Liberation Sans, Noto Sans CJK SC, sans-serif" font-size="18.7" fill="#24408f">资料来源：<tspan font-size="20.6">Wind</tspan><tspan dx="0">，</tspan><tspan dx="1.2">申万宏源研究</tspan></text>
<text x="547.8" y="389.1" font-family="Liberation Sans, Noto Sans CJK SC, sans-serif" font-size="18.7" fill="#24408f">资料来源：<tspan font-size="20.6">Wind</tspan><tspan dx="0">，</tspan><tspan dx="1.2">申万宏源研究</tspan></text>
<g fill="#fff" stroke-width="0.8">
<path d="M843.5,367.5 l-2.2,4.8 l6.5,-2.6z" stroke="#b5b5b5"/>
<ellipse cx="853" cy="357.6" rx="14.6" ry="12" stroke="#dedede"/>
<path d="M872.5,375.8 l5,3.6 l-1.2,-5.4z" stroke="#8f8f8f"/>
<ellipse cx="867" cy="365.8" rx="13" ry="11.4" stroke="#9a9a9a"/>
<g stroke="#9a9a9a" fill="none" stroke-width="0.9">
<path d="M845.8,351.8 a1.6,1.6 0 0 1 3.2,0"/><path d="M857.2,351.8 a1.6,1.6 0 0 1 3.2,0"/>
<path d="M861.3,361.5 a1.5,1.5 0 0 1 3,0"/><path d="M870.5,361.5 a1.5,1.5 0 0 1 3,0"/>
</g>
</g>
<g font-family="Noto Sans CJK SC, sans-serif" font-size="25.8" font-style="italic" font-weight="500">
<text x="887.6" y="374.4" fill="#555">申万宏源宏观</text>
<text x="886.7" y="373.5" fill="#fff" stroke="#8c8c8c" stroke-width="0.45">申万宏源宏观</text>
</g>
</svg>
</body></html>
